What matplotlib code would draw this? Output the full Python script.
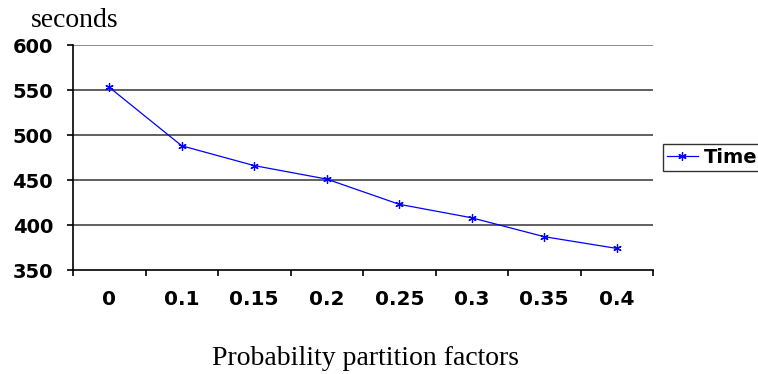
import matplotlib.pyplot as plt

# valeurs
facteurs = ["0", "0.1", "0.15", "0.2", "0.25", "0.3", "0.35", "0.4"]
temps = [553, 488, 466, 451, 423, 408, 387, 374]
graduations_y = [350, 400, 450, 500, 550, 600]

fig = plt.figure(figsize=(7.58, 3.74), dpi=100)
ax = fig.add_axes([73 / 758, 1 - 270 / 374, (653 - 73) / 758, (270 - 45) / 374])

pos = range(len(facteurs))
ax.plot(pos, temps, color="#0000ff", lw=0.9, marker=(6, 2, 0), ms=6, mew=0.9,
        label="Time", zorder=3)

ax.set_xlim(-0.5, len(facteurs) - 0.5)
ax.set_ylim(350, 600)
ax.set_yticks(graduations_y)
ax.set_yticklabels([str(v) for v in graduations_y], fontweight="bold", fontsize=14,
                   family="DejaVu Sans")
ax.set_xticks(list(pos))
ax.set_xticklabels(facteurs, fontweight="bold", fontsize=14.5, family="DejaVu Sans")
ax.tick_params(axis="x", length=0, pad=14.5)
ax.tick_params(axis="y", length=4.3, direction="out", pad=10, width=1.2)

# graduations entre les catégories
ax.set_xticks([i - 0.5 for i in range(len(facteurs) + 1)], minor=True)
ax.tick_params(axis="x", which="minor", length=4.3, width=1.2, direction="out",
               color="black")

for v in graduations_y[1:]:
    ax.axhline(v, color="#444444" if v < 600 else "#777777", lw=1.2, zorder=1)

for s in ["top", "right"]:
    ax.spines[s].set_visible(False)
ax.spines["left"].set_linewidth(1.2)
ax.spines["bottom"].set_linewidth(1.2)

fig.text(75 / 758, 1 - 27 / 374, "seconds", family="Liberation Serif", fontsize=20,
         ha="center", va="baseline")
fig.text(366 / 758, 1 - 365 / 374, "Probability partition factors",
         family="Liberation Serif", fontsize=20, ha="center", va="baseline")

leg = fig.legend(loc="center left", bbox_to_anchor=(663 / 758, 1 - 157.5 / 374),
                 frameon=True, fancybox=False, edgecolor="black", handlelength=1.6,
                 handletextpad=0.3, borderpad=0.2, borderaxespad=0,
                 prop={"weight": "bold", "size": 14, "family": "DejaVu Sans"})
leg.get_frame().set_linewidth(1.0)

fig.savefig("out.png", dpi=100)
